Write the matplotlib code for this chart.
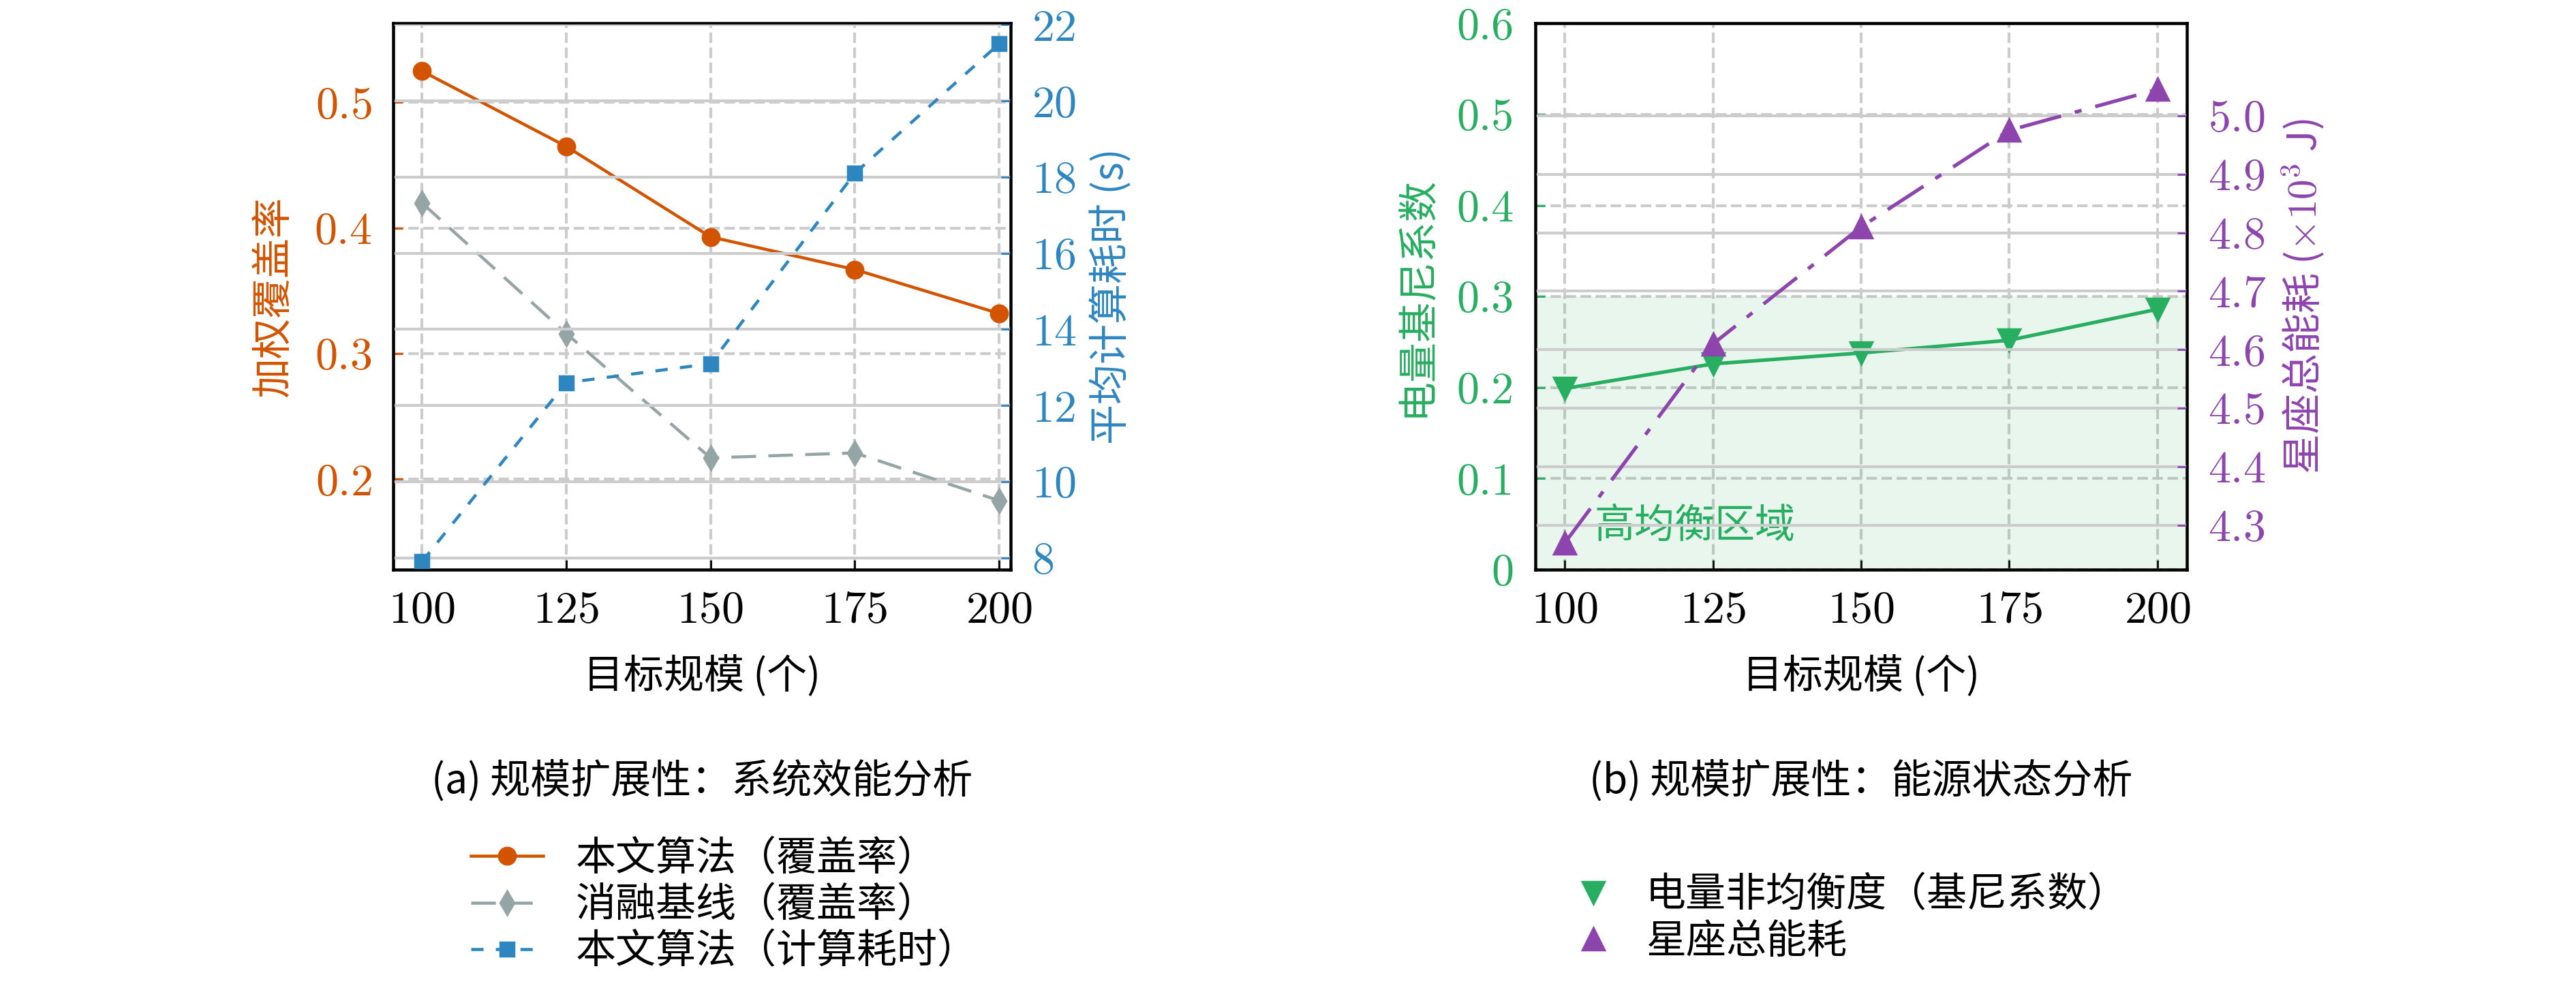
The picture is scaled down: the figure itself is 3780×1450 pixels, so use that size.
import matplotlib.pyplot as plt
from matplotlib.lines import Line2D

plt.rcParams['font.family'] = ['cmr10', 'Noto Sans CJK SC']
plt.rcParams['axes.formatter.use_mathtext'] = True
plt.rcParams['mathtext.fontset'] = 'cm'

# data
scale = [100, 125, 150, 175, 200]
cov_ours = [0.525, 0.465, 0.393, 0.367, 0.332]
cov_base = [0.420, 0.316, 0.217, 0.221, 0.183]
time_ours = [7.9, 12.6, 13.1, 18.1, 21.5]
gini = [0.199, 0.226, 0.238, 0.252, 0.286]
energy = [4.27, 4.61, 4.81, 4.975, 5.045]

c_or, c_gr, c_bl = '#d35400', '#95a5a6', '#2e86c1'
c_gn, c_pu = '#27ae60', '#8e44ad'
fs = 17
tfs = 19
cjk = ['Noto Sans CJK SC', 'cmr10']

fig = plt.figure(figsize=(15.12, 5.8), dpi=250)

def style_grid(ax, ax2):
    ax.grid(True, color='#cccccc', ls='--', lw=1.2)
    ax2.grid(True, axis='y', color='#cccccc', ls='-', lw=1.2)
    ax.set_axisbelow(True)
    ax.tick_params(direction='in', labelsize=tfs, length=4, pad=9)
    ax2.tick_params(direction='in', labelsize=tfs, length=4, pad=9)
    for s in ax.spines.values():
        s.set_linewidth(1.3)

# (a)
ax = fig.add_axes([0.1526, 0.4234, 0.2397, 0.553])
ax2 = ax.twinx()
style_grid(ax, ax2)
l1, = ax.plot(scale, cov_ours, color=c_or, marker='o', ms=7, lw=1.3, label='本文算法（覆盖率）')
l2, = ax.plot(scale, cov_base, color=c_gr, marker='d', ms=7, lw=1.3, ls=(0, (8, 4)), label='消融基线（覆盖率）')
l3, = ax2.plot(scale, time_ours, color=c_bl, marker='s', ms=6, lw=1.3, ls=(0, (4, 4)), label='本文算法（计算耗时）')
ax.set_xlim(95, 202)
ax.set_ylim(0.128, 0.563)
ax.set_yticks([0.2, 0.3, 0.4, 0.5])
ax2.set_ylim(7.69, 22.04)
ax2.set_yticks([8, 10, 12, 14, 16, 18, 20, 22])
ax.set_xticks(scale)
ax.tick_params(axis='y', colors=c_or)
ax2.tick_params(axis='y', colors=c_bl)
ax.set_ylabel('加权覆盖率', color=c_or, fontsize=fs, family=cjk, labelpad=8)
ax2.set_ylabel('平均计算耗时 (s)', color=c_bl, fontsize=fs, family=cjk, labelpad=6)
ax.set_xlabel('目标规模 (个)', fontsize=fs, family=cjk, labelpad=10)
fig.text(0.2725, 0.198, '(a) 规模扩展性：系统效能分析', ha='center', fontsize=fs, family=cjk)
fig.legend(handles=[l1, l2, l3], loc='upper left', bbox_to_anchor=(0.175, 0.172),
           frameon=False, prop={'family': cjk, 'size': fs}, handlelength=1.8,
           labelspacing=0.12, borderpad=0)

# (b)
bx = fig.add_axes([0.596, 0.4234, 0.253, 0.553])
bx2 = bx.twinx()
style_grid(bx, bx2)
bx.axhspan(0, 0.3, color=c_gn, alpha=0.1, lw=0)
m1, = bx.plot(scale, gini, color=c_gn, marker='v', ms=9, lw=1.5, label='电量非均衡度（基尼系数）')
m2, = bx2.plot(scale, energy, color=c_pu, marker='^', ms=9, lw=1.5, ls=(0, (12, 4, 2, 4)), label='星座总能耗')
bx.text(105, 0.035, '高均衡区域', color=c_gn, fontsize=fs, family=cjk)
bx.set_xlim(95, 205)
bx.set_ylim(0, 0.6)
bx.set_yticks([0, 0.1, 0.2, 0.3, 0.4, 0.5, 0.6])
bx.set_yticklabels(['0', '0.1', '0.2', '0.3', '0.4', '0.5', '0.6'])
bx2.set_ylim(4.224, 5.158)
bx2.set_yticks([4.3, 4.4, 4.5, 4.6, 4.7, 4.8, 4.9, 5.0])
bx.set_xticks(scale)
bx.tick_params(axis='y', colors=c_gn)
bx2.tick_params(axis='y', colors=c_pu)
bx.set_ylabel('电量基尼系数', color=c_gn, fontsize=fs, family=cjk, labelpad=8)
bx2.set_ylabel('星座总能耗 ($\\times10^3$ J)', color=c_pu, fontsize=fs, family=cjk, labelpad=6)
bx.set_xlabel('目标规模 (个)', fontsize=fs, family=cjk, labelpad=10)
fig.text(0.7225, 0.198, '(b) 规模扩展性：能源状态分析', ha='center', fontsize=fs, family=cjk)
h1 = Line2D([], [], color=c_gn, marker='v', ms=9, ls='none')
h2 = Line2D([], [], color=c_pu, marker='^', ms=9, ls='none')
fig.legend(handles=[h1, h2], labels=['电量非均衡度（基尼系数）', '星座总能耗'], loc='upper left',
           bbox_to_anchor=(0.603, 0.135), frameon=False, prop={'family': cjk, 'size': fs},
           handlelength=1.0, labelspacing=0.12, borderpad=0)

fig.savefig('out.png', dpi=250)
